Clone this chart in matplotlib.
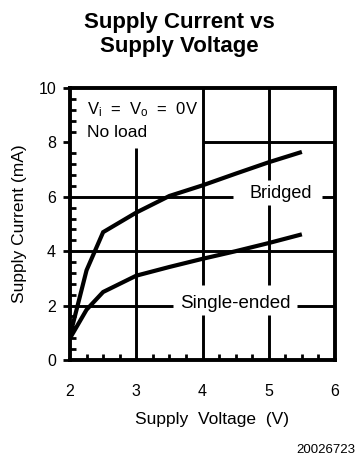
import matplotlib
matplotlib.use("Agg")
import matplotlib.pyplot as plt
from matplotlib.ticker import MultipleLocator, FixedLocator

plt.rcParams["font.family"] = ["Liberation Sans", "DejaVu Sans"]
plt.rcParams["mathtext.fontset"] = "custom"
plt.rcParams["mathtext.rm"] = "Liberation Sans"
plt.rcParams["mathtext.it"] = "Liberation Sans:italic"

# Supply current (mA) versus supply voltage (V)
volts_bridged = [2.0, 2.25, 2.5, 3.0, 3.5, 4.0, 4.5, 5.0, 5.5]
current_bridged = [0.9, 3.3, 4.7, 5.42, 6.03, 6.42, 6.85, 7.27, 7.65]

volts_single = [2.0, 2.25, 2.5, 3.0, 3.5, 4.0, 4.5, 5.0, 5.5]
current_single = [0.8, 1.85, 2.5, 3.1, 3.42, 3.72, 4.0, 4.3, 4.62]

x_ticks = [2, 3, 4, 5, 6]
y_ticks = [0, 2, 4, 6, 8, 10]

W, H = 356, 458
fig = plt.figure(figsize=(W / 100, H / 100), dpi=100)
ax = fig.add_axes([70 / W, 1 - 360 / H, 265 / W, 272 / H])

ax.set_xlim(2, 6)
ax.set_ylim(0, 10)

# grid drawn as segments, leaving room for the annotations
grid_kw = dict(color="black", lw=2.1, zorder=2)
ax.vlines([3], 0, 7.8, **grid_kw)
ax.vlines([4, 5], 0, 1.65, **grid_kw)
ax.vlines([4], 2.75, 10, **grid_kw)
ax.vlines([5], 2.75, 5.7, **grid_kw)
ax.vlines([5], 6.6, 10, **grid_kw)
ax.hlines([2], 2, 3.55, **grid_kw)
ax.hlines([2], 5.42, 6, **grid_kw)
ax.hlines([4], 2, 6, **grid_kw)
ax.hlines([6], 2, 4.46, **grid_kw)
ax.hlines([6], 5.8, 6, **grid_kw)
ax.hlines([8], 4, 6, **grid_kw)

line_kw = dict(color="black", lw=3.0, solid_capstyle="butt", solid_joinstyle="miter", zorder=3)
ax.plot(volts_bridged, current_bridged, **line_kw)
ax.plot(volts_single, current_single, **line_kw)

for s in ax.spines.values():
    s.set_linewidth(2.8)

ax.xaxis.set_major_locator(FixedLocator(x_ticks))
ax.yaxis.set_major_locator(FixedLocator(y_ticks))
ax.xaxis.set_minor_locator(MultipleLocator(0.25))
ax.yaxis.set_minor_locator(MultipleLocator(0.4))

ax.tick_params(axis="x", which="major", length=0, pad=17, labelsize=11.5)
ax.tick_params(axis="x", which="minor", direction="in", length=4.5, width=2.0, top=False)
ax.tick_params(axis="y", which="major", direction="out", length=5, width=2.0, pad=5, labelsize=11.5)
ax.tick_params(axis="y", which="minor", direction="in", length=4.5, width=2.0, right=False)

ax.set_xlabel("Supply  Voltage  (V)", fontsize=12.5)
ax.xaxis.set_label_coords(0.536, -0.19)
ax.set_ylabel("Supply Current (mA)", fontsize=12.5, labelpad=8)

ax.text(2.26, 9.2, r"V$_{\rm i}$  =  V$_{\rm o}$  =  0V", fontsize=12, va="center", ha="left")
ax.text(2.26, 8.38, "No load", fontsize=12.5, va="center", ha="left")
ax.text(5.18, 5.95, "Bridged", fontsize=13, va="baseline", ha="center")
ax.text(4.49, 1.9, "Single-ended", fontsize=13.5, va="baseline", ha="center")

fig.text(179 / W, 1 - 12 / H, "Supply Current vs\nSupply Voltage", fontsize=16,
         fontweight="bold", ha="center", va="top", linespacing=1.2)
fig.text(355 / W, 1 - 450 / H, "20026723", fontsize=9.5, ha="right", va="center")

fig.savefig("out.png", dpi=100)
